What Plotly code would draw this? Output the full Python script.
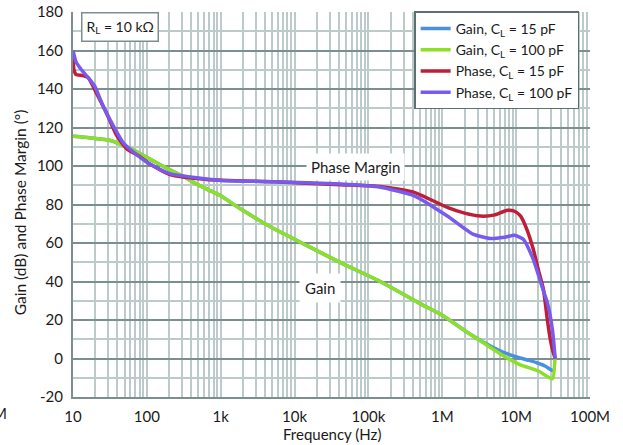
import plotly.graph_objects as go

# ---- data ----
freq_gain_15 = [10, 14, 20, 30, 43, 60, 80, 120, 205, 300, 430, 650, 1000, 1800, 5200, 15000,
                42000, 145000, 500000, 1e6, 2.2e6, 4e6, 6.9e6, 11e6, 15e6, 19e6, 25e6, 29e6, 33e6]
gain_15 = [115.5, 115, 114.3, 113.5, 111.5, 109, 106.5, 102.8, 98, 95, 91.5, 88, 84.5, 78, 67.5, 58.5,
           49.8, 40, 28.5, 22.5, 13.5, 7.5, 3, 0.4, -1, -2.2, -4, -5.7, -6.6]

freq_gain_100 = [10, 14, 20, 30, 43, 60, 80, 120, 205, 300, 430, 650, 1000, 1800, 5200, 15000,
                 42000, 145000, 500000, 1e6, 2.2e6, 4e6, 6.9e6, 11e6, 20e6, 31e6, 33.5e6]
gain_100 = [115.5, 115, 114.3, 113.5, 111.5, 109, 106.5, 102.8, 98, 95, 91.5, 88, 84.5, 78, 67.5, 58.5,
            49.8, 40, 28.5, 22.5, 13.5, 7, 1.2, -3, -6.5, -10.5, -0.5]

freq_phase_15 = [10, 10.3, 11, 13.6, 16, 20.7, 28, 38.8, 53, 80, 110, 205, 646, 5200, 42000, 145000,
                 418000, 1.17e6, 2e6, 3.3e6, 5e6, 7.6e6, 9.5e6, 11.5e6, 14e6, 17e6, 20e6, 23.4e6,
                 26.5e6, 29e6, 31e6, 33.8e6]
phase_15 = [156, 150, 147.5, 147, 146, 138, 128, 116, 109, 105, 101, 95.5, 93, 91.8, 90.3, 89.4,
            86.3, 78.5, 75.5, 74, 74.5, 77, 76.5, 74, 67, 57, 46, 36,
            20, 10, 4.7, 0]

freq_phase_100 = [10, 11, 13, 16.8, 20, 25.6, 35, 48, 72, 110, 205, 646, 1000, 5200, 42000, 145000,
                  418000, 1.17e6, 2.6e6, 4.5e6, 7e6, 9.5e6, 12.5e6, 17e6, 23e6, 26.5e6, 31e6, 33.8e6]
phase_100 = [160, 154, 150, 145, 141, 131, 121, 112, 106, 101, 96, 93.2, 92.5, 91.8, 90.6, 89,
             84.5, 74, 64.6, 62.3, 63, 64, 62, 51.6, 36, 29, 15, 0]

x_tick_vals = [10, 100, 1e3, 1e4, 1e5, 1e6, 1e7, 1e8]
x_tick_text = ["10", "100", "1k", "10k", "100k", "1M", "10M", "100M"]
y_tick_vals = [-20, 0, 20, 40, 60, 80, 100, 120, 140, 160, 180]
y_tick_text = ["-20", "0", "20", "40", "60", "80", "100", "120", "140", "160", "180"]

series = [
    ("Gain, C<sub>L</sub> = 15 pF", freq_gain_15, gain_15, "rgb(74,144,226)"),
    ("Gain, C<sub>L</sub> = 100 pF", freq_gain_100, gain_100, "rgb(140,224,40)"),
    ("Phase, C<sub>L</sub> = 15 pF", freq_phase_15, phase_15, "rgb(190,30,55)"),
    ("Phase, C<sub>L</sub> = 100 pF", freq_phase_100, phase_100, "rgb(120,90,238)"),
]

FONT = "Lato"
LIGHT = "rgb(188,202,202)"
DARK = "rgb(125,142,142)"
TXT = "#1a1a1a"

fig = go.Figure()
for name, xs, ys, col in series:
    fig.add_trace(go.Scatter(x=xs, y=ys, name=name, mode="lines",
                             line=dict(color=col, width=3.5, shape="spline", smoothing=0.5)))

fig.update_layout(
    width=623, height=445,
    margin=dict(l=73, r=33, t=12, b=48, autoexpand=False),
    paper_bgcolor="white", plot_bgcolor="white",
    font=dict(family=FONT, size=14, color=TXT),
    showlegend=True,
    legend=dict(x=0.979, y=1.0013, xanchor="right", yanchor="top",
                bgcolor="white", bordercolor="rgb(95,110,110)", borderwidth=1.5,
                font=dict(family=FONT, size=14, color=TXT),
                tracegroupgap=0),
)

fig.update_xaxes(
    type="log", range=[1, 8],
    tickvals=x_tick_vals, ticktext=x_tick_text,
    tickfont=dict(family=FONT, size=15, color=TXT),
    showgrid=True, gridcolor=LIGHT, gridwidth=2,
    minor=dict(dtick="D1", showgrid=True, gridcolor=LIGHT, gridwidth=2, ticks=""),
    showline=True, linecolor=DARK, linewidth=2,
    ticks="", ticklabelstandoff=5, zeroline=False, automargin=False,
)
fig.update_yaxes(
    range=[-20, 180], tickvals=y_tick_vals, ticktext=y_tick_text,
    tickfont=dict(family=FONT, size=15, color=TXT),
    showgrid=True, gridcolor=DARK, gridwidth=2,
    minor=dict(dtick=10, showgrid=True, gridcolor=LIGHT, gridwidth=2, ticks=""),
    showline=True, linecolor=DARK, linewidth=2,
    ticks="", ticklabelstandoff=5, zeroline=False, automargin=False,
)

# Axis titles
fig.add_annotation(text="Gain (dB) and Phase Margin (°)", xref="paper", yref="paper",
                   x=-0.1032, y=0.479, xanchor="center", yanchor="middle",
                   textangle=-90, showarrow=False,
                   font=dict(family=FONT, size=15.5, color=TXT))
fig.add_annotation(text="Frequency (Hz)", xref="paper", yref="paper",
                   x=0.5007, y=-0.097, xanchor="center", yanchor="middle", showarrow=False,
                   font=dict(family=FONT, size=15, color=TXT))

# In-plot labels
fig.add_annotation(text="R<sub>L</sub> = 10 kΩ", xref="paper", yref="paper",
                   x=0.0906, y=0.962, xanchor="center", yanchor="middle",
                   showarrow=False, bgcolor="white",
                   bordercolor=DARK, borderwidth=1.5, borderpad=4,
                   font=dict(family=FONT, size=14, color=TXT))
fig.add_annotation(text="Phase Margin", x=4.829, y=99.5, xref="x", yref="y",
                   xanchor="center", yanchor="middle",
                   showarrow=False, bgcolor="white", borderpad=4,
                   font=dict(family=FONT, size=15, color=TXT))
fig.add_annotation(text="Gain", x=4.347, y=36.6, xref="x", yref="y",
                   xanchor="center", yanchor="middle",
                   showarrow=False, bgcolor="white", borderpad=5,
                   font=dict(family=FONT, size=15, color=TXT))

# clipped tick label remnant at the far left edge
fig.add_annotation(text="100M", xref="paper", yref="paper", x=-0.1244, y=-0.042,
                   xanchor="right", yanchor="middle", showarrow=False,
                   font=dict(family=FONT, size=15, color=TXT))

fig.write_html("out.html")
